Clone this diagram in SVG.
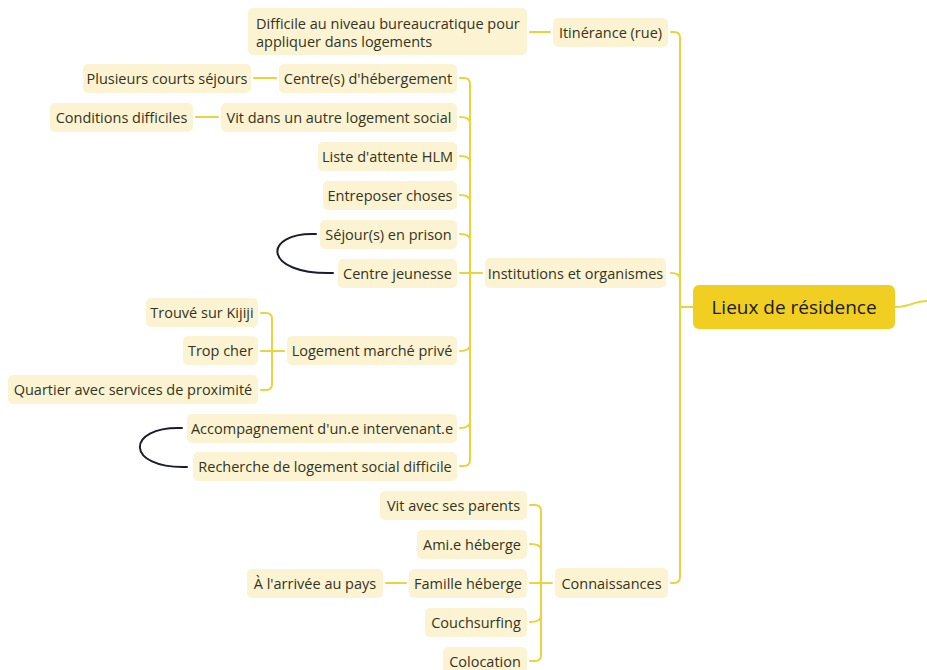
<svg xmlns="http://www.w3.org/2000/svg" width="927" height="670" viewBox="0 0 927 670">
<style>
.n rect{fill:#fbf3d2}
.n text{font-family:"Open Sans","Noto Sans",sans-serif;font-size:14.5px;fill:#35341f;text-anchor:middle;dominant-baseline:central}
.root rect{fill:#f1cf22}
.root text{font-family:"Open Sans","Noto Sans",sans-serif;font-size:19px;fill:#1a1a10;text-anchor:middle;dominant-baseline:central}
.c path{fill:none;stroke:#e9d43c;stroke-width:2;stroke-linecap:round}
.r path{fill:none;stroke:#1c1c30;stroke-width:2;stroke-linecap:round}
</style>
<rect width="927" height="670" fill="#ffffff"/>
<g class="c" id="connectors">
<path d="M895 307 C910 307 914 301 927 301"/>
<path d="M671 32 H674 Q680 32 680 38 V577 Q680 583 674 583 H671"/>
<path d="M671 273 Q680 273 680 279"/>
<path d="M680 307 H693"/>
<path d="M530 32 H550"/>
<path d="M460 78 H464 Q470 78 470 84 V460 Q470 466 464 466 H460"/>
<path d="M460 117 Q470 117 470 123"/>
<path d="M460 156 Q470 156 470 162"/>
<path d="M460 195 Q470 195 470 201"/>
<path d="M460 234 Q470 234 470 240"/>
<path d="M460 273 H482"/>
<path d="M460 351 Q470 351 470 345"/>
<path d="M460 428 Q470 428 470 422"/>
<path d="M254 78 H276"/>
<path d="M196 117 H218"/>
<path d="M261 313 H266 Q272 313 272 319 V384 Q272 390 266 390 H261"/>
<path d="M261 351 H284"/>
<path d="M530 505 H535 Q541 505 541 511 V655 Q541 661 535 661 H530"/>
<path d="M530 544 Q541 544 541 550"/>
<path d="M530 583 H552"/>
<path d="M530 622 Q541 622 541 616"/>
<path d="M386 583 H406"/>
</g>
<g class="r" id="relations">
<path d="M316 234 C262 232 262 275 333 273"/>
<path d="M182 428 C125 426 125 469 187 467"/>
</g>
<g class="root" id="n-root"><rect x="693" y="285" width="202" height="44" rx="6"/><text x="794" y="307">Lieux de résidence</text></g>
<g class="n" id="n-itinerance"><rect x="553" y="18" width="115" height="29" rx="5"/><text x="610.5" y="32.5">Itinérance (rue)</text></g>
<g class="n" id="n-difficile"><rect x="248" y="8" width="279" height="47" rx="5"/><text x="256" y="23" style="text-anchor:start">Difficile au niveau bureaucratique pour</text><text x="256" y="41" style="text-anchor:start">appliquer dans logements</text></g>
<g class="n" id="n-institutions"><rect x="485" y="258" width="181" height="30" rx="5"/><text x="575.5" y="273">Institutions et organismes</text></g>
<g class="n" id="n-connaissances"><rect x="555" y="568" width="113" height="30" rx="5"/><text x="611.5" y="583">Connaissances</text></g>
<g class="n" id="n-centres"><rect x="279" y="64" width="178" height="29" rx="5"/><text x="368" y="78.5">Centre(s) d'hébergement</text></g>
<g class="n" id="n-vitdans"><rect x="221" y="103" width="236" height="29" rx="5"/><text x="339" y="117.5">Vit dans un autre logement social</text></g>
<g class="n" id="n-liste"><rect x="318" y="142" width="139" height="29" rx="5"/><text x="387.5" y="156.5">Liste d'attente HLM</text></g>
<g class="n" id="n-entreposer"><rect x="323" y="181" width="134" height="29" rx="5"/><text x="390" y="195.5">Entreposer choses</text></g>
<g class="n" id="n-sejour"><rect x="320" y="220" width="137" height="29" rx="5"/><text x="388.5" y="234.5">Séjour(s) en prison</text></g>
<g class="n" id="n-jeunesse"><rect x="338" y="259" width="119" height="29" rx="5"/><text x="397.5" y="273.5">Centre jeunesse</text></g>
<g class="n" id="n-marche"><rect x="287" y="336" width="170" height="29" rx="5"/><text x="372" y="350.5">Logement marché privé</text></g>
<g class="n" id="n-accompagnement"><rect x="187" y="414" width="270" height="29" rx="5"/><text x="322" y="428.5">Accompagnement d'un.e intervenant.e</text></g>
<g class="n" id="n-recherche"><rect x="193" y="452" width="264" height="29" rx="5"/><text x="325" y="466.5">Recherche de logement social difficile</text></g>
<g class="n" id="n-plusieurs"><rect x="83" y="64" width="168" height="29" rx="5"/><text x="167" y="78.5">Plusieurs courts séjours</text></g>
<g class="n" id="n-conditions"><rect x="50" y="103" width="143" height="29" rx="5"/><text x="121.5" y="117.5">Conditions difficiles</text></g>
<g class="n" id="n-kijiji"><rect x="146" y="298" width="112" height="29" rx="5"/><text x="202" y="312.5">Trouvé sur Kijiji</text></g>
<g class="n" id="n-cher"><rect x="183" y="336" width="75" height="29" rx="5"/><text x="220.5" y="350.5">Trop cher</text></g>
<g class="n" id="n-quartier"><rect x="8" y="375" width="250" height="29" rx="5"/><text x="133" y="389.5">Quartier avec services de proximité</text></g>
<g class="n" id="n-parents"><rect x="380" y="491" width="147" height="29" rx="5"/><text x="453.5" y="505.5">Vit avec ses parents</text></g>
<g class="n" id="n-ami"><rect x="417" y="530" width="110" height="29" rx="5"/><text x="472" y="544.5">Ami.e héberge</text></g>
<g class="n" id="n-famille"><rect x="409" y="569" width="118" height="29" rx="5"/><text x="468" y="583.5">Famille héberge</text></g>
<g class="n" id="n-couch"><rect x="425" y="608" width="102" height="29" rx="5"/><text x="476" y="622.5">Couchsurfing</text></g>
<g class="n" id="n-colocation"><rect x="443" y="647" width="84" height="29" rx="5"/><text x="485" y="661.5">Colocation</text></g>
<g class="n" id="n-arrivee"><rect x="247" y="569" width="136" height="29" rx="5"/><text x="315" y="583.5">À l'arrivée au pays</text></g>
</svg>
